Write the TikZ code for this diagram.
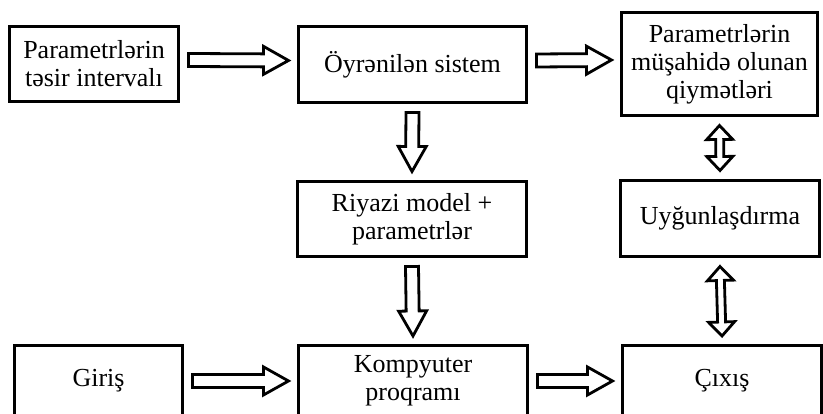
\documentclass[tikz,border=0pt]{standalone}
\usepackage{fontspec}
\setmainfont{Liberation Serif}
\usetikzlibrary{calc}
\begin{document}
\begin{tikzpicture}[x=1pt,y=1pt,
  box/.style={draw=drawColor,line width=3pt,inner sep=0pt,outer sep=10pt,align=center,
    text=drawColor,font=\fontsize{26}{28}\selectfont},
  fat/.style={draw=drawColor,fill=fillColor,line width=2.8pt,line join=miter},
  arrowR/.style={fat,to path={let \p1=(\tikztostart),\p2=(\tikztotarget),
    \n1={atan2(\y2-\y1,\x2-\x1)},\n2={veclen(\x2-\x1,\y2-\y1)} in
    -- ++(\n1+90:6.5) -- ++(\n1:\n2-25) -- ++(\n1+90:7.5) -- (\tikztotarget)
    -- ++({\n1+atan2(-14,-25)}:{veclen(25,14)}) -- ++(\n1+90:7.5)
    -- ++(\n1+180:\n2-25) -- cycle}},
  arrowUD/.style={fat,to path={let \p1=(\tikztostart),\p2=(\tikztotarget),
    \n1={atan2(\y2-\y1,\x2-\x1)},\n2={veclen(\x2-\x1,\y2-\y1)} in
    -- ++({\n1+atan2(13,14)}:{veclen(14,13)}) -- ++(\n1-90:9) -- ++(\n1:\n2-28)
    -- ++(\n1+90:9) -- (\tikztotarget) -- ++({\n1+atan2(-13,-14)}:{veclen(14,13)})
    -- ++(\n1+90:9) -- ++(\n1+180:\n2-28) -- ++(\n1-90:9) -- cycle}}]
\definecolor[named]{fillColor}{rgb}{1.00,1.00,1.00}
\definecolor[named]{drawColor}{rgb}{0.00,0.00,0.00}
\path[use as bounding box,fill=fillColor] (0,0) rectangle (823,414);
\clip (0,0) rectangle (823,414);

\node[box,minimum width=169pt,minimum height=75pt] (intervals) at ( 94.0,350.0) {Parametrlərin\\təsir intervalı};
\node[box,minimum width=228pt,minimum height=76pt] (system) at (412.5,349.5) {Öyrənilən sistem};
\node[box,minimum width=196pt,minimum height=103pt] (observed) at (719.5,350.0) {Parametrlərin\\müşahidə olunan\\qiymətləri};

\node[box,minimum width=229pt,minimum height=75pt] (model) at (412.0,195.0) {Riyazi model +\\parametrlər};
\node[box,minimum width=199pt,minimum height=76pt] (fitting) at (720.0,195.5) {Uyğunlaşdırma};

\node[box,minimum width=168pt,minimum height=70pt] (input) at ( 98.5, 33.0) {Giriş};
\node[box,minimum width=229pt,minimum height=70pt] (program) at (413.0, 33.0) {Kompyuter\\proqramı};
\node[box,minimum width=199pt,minimum height=70pt] (output) at (722.0, 33.0) {Çıxış};

\draw[arrowR] ([yshift=4pt]intervals.east) to ([yshift=4pt]system.west);
\draw[arrowR] ([yshift=4pt]system.east) to ([yshift=4pt]observed.west);
\draw[arrowR] (system.south) to (model.north);
\draw[arrowR] (model.south) to (program.north);
\draw[arrowR] (input.east) to (program.west);
\draw[arrowR] (program.east) to (output.west);

\draw[arrowUD] (observed.south) to (fitting.north);
\draw[arrowUD] (fitting.south) to (output.north);
\end{tikzpicture}
\end{document}
